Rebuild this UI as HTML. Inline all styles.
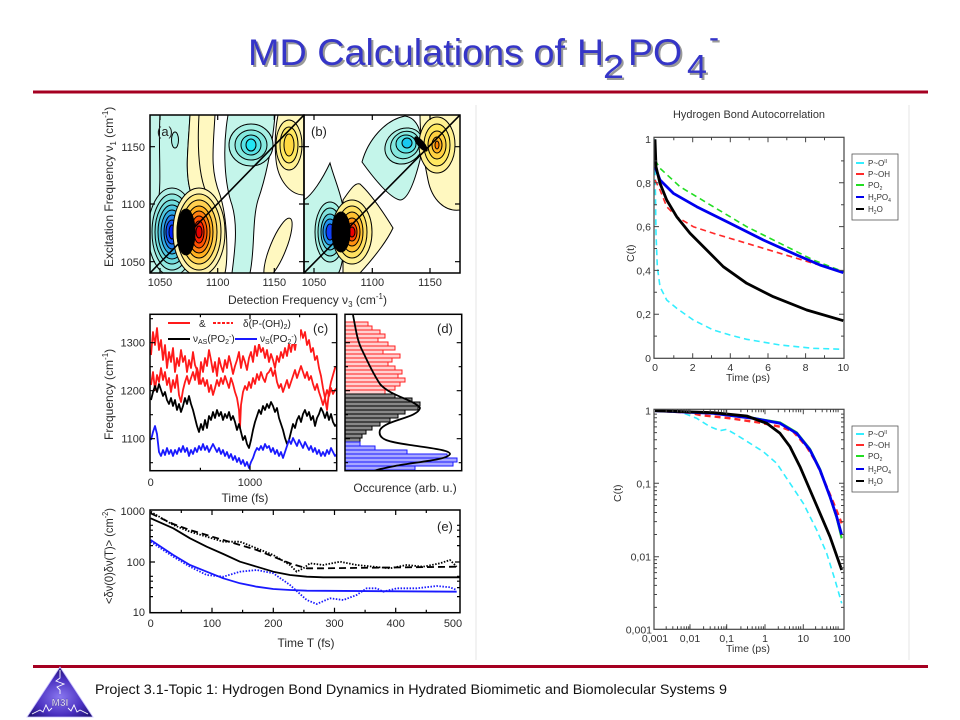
<!DOCTYPE html>
<html><head><meta charset="utf-8"><style>
html,body{margin:0;padding:0;background:#fff;}
svg{display:block;}
text{font-family:"Liberation Sans",Arial,sans-serif;}
</style></head><body>
<svg width="960" height="720" viewBox="0 0 960 720" xmlns="http://www.w3.org/2000/svg">
<defs>
<clipPath id="ca"><rect x="150" y="115" width="154" height="158"/></clipPath>
<clipPath id="cb"><rect x="304" y="115" width="156" height="158"/></clipPath>
<clipPath id="cc"><rect x="150" y="314.3" width="186.7" height="156.4"/></clipPath>
<clipPath id="cd"><rect x="345" y="314.3" width="116.7" height="156.4"/></clipPath>
<clipPath id="ce"><rect x="150" y="510" width="310" height="102.7"/></clipPath>
<radialGradient id="lg" cx="50%" cy="60%" r="60%">
<stop offset="0" stop-color="#8a78f0"/><stop offset="0.6" stop-color="#4a30c0"/><stop offset="1" stop-color="#1e1070"/>
</radialGradient>
</defs>
<rect width="960" height="720" fill="#fff"/>

<!-- Title -->
<g font-size="37.5" fill="#999">
<text x="250" y="67" textLength="317" lengthAdjust="spacingAndGlyphs">MD Calculations of</text>
<text x="579" y="67">H</text><text x="605" y="80" font-size="33" textLength="21" lengthAdjust="spacingAndGlyphs">2</text>
<text x="630" y="67">PO</text><text x="689" y="80" font-size="33" textLength="20" lengthAdjust="spacingAndGlyphs">4</text><text x="711" y="49" font-size="30">-</text>
</g>
<g font-size="37.5" fill="#3535c8">
<text x="248" y="65" textLength="317" lengthAdjust="spacingAndGlyphs">MD Calculations of</text>
<text x="577" y="65">H</text><text x="603" y="78" font-size="33" textLength="21" lengthAdjust="spacingAndGlyphs">2</text>
<text x="628" y="65">PO</text><text x="687" y="78" font-size="33" textLength="20" lengthAdjust="spacingAndGlyphs">4</text><text x="709" y="47" font-size="30">-</text>
</g>
<rect x="33" y="90.5" width="895" height="3" fill="#a50021"/>

<!-- faint separators -->
<line x1="476" y1="105" x2="476" y2="660" stroke="#e6e6e6" stroke-width="1"/>
<line x1="909" y1="105" x2="909" y2="660" stroke="#e6e6e6" stroke-width="1"/>

<!-- ===== Panel (a) ===== -->
<g clip-path="url(#ca)" stroke="#000" stroke-width="1">
<rect x="150" y="115" width="154" height="158" fill="#fff" stroke="none"/>
<path d="M150,115 L190,115 C188,150 185,170 190,190 C195,215 195,260 192,273 L150,273 Z" fill="#c4f5ea"/>
<path d="M160,115 C158,150 162,180 158,205" fill="none"/>
<ellipse cx="175" cy="140" rx="3.5" ry="8" fill="#a8efe4"/>
<path d="M190,115 L215,115 C213,150 210,170 220,195 C228,220 228,260 225,273 L192,273 C195,250 195,215 190,190 C185,170 188,150 190,115 Z" fill="#fff8c0"/>
<path d="M199,115 C197,150 199,175 206,192" fill="none"/>
<path d="M228,115 L275,115 C272,150 265,180 258,200 C252,220 255,250 250,273 L232,273 C235,250 238,225 232,205 C225,185 222,150 228,115 Z" fill="#c4f5ea"/>
<ellipse cx="251" cy="145" rx="22" ry="21" fill="#a6f0e4"/>
<ellipse cx="251" cy="145" rx="16" ry="15" fill="#84e8de"/>
<ellipse cx="251" cy="145" rx="10" ry="10" fill="#58e2e6"/>
<ellipse cx="251" cy="145" rx="5" ry="6" fill="#22e4f4"/>
<path d="M278,115 L304,115 L304,195 C290,195 278,180 276,160 C274,140 276,125 278,115 Z" fill="#fff8c0"/>
<ellipse cx="289" cy="145" rx="13" ry="25" fill="#fff090"/>
<ellipse cx="289" cy="145" rx="9" ry="18" fill="#ffe860"/>
<ellipse cx="289" cy="145" rx="5" ry="11" fill="#ffd840"/>
<ellipse cx="278" cy="248" rx="8" ry="32" transform="rotate(22 278 248)" fill="#fff8c0"/>
<ellipse cx="172" cy="232" rx="24" ry="44" fill="#b0f0e6"/>
<ellipse cx="172" cy="232" rx="20" ry="38" fill="#90e8e0"/>
<ellipse cx="172" cy="232" rx="17" ry="32" fill="#70dcdc"/>
<ellipse cx="172" cy="232" rx="14" ry="27" fill="#50c8e0"/>
<ellipse cx="172" cy="232" rx="11" ry="22" fill="#30a8e4"/>
<ellipse cx="172" cy="232" rx="8" ry="17" fill="#2080ec"/>
<ellipse cx="172" cy="232" rx="6" ry="12" fill="#1050f4"/>
<ellipse cx="172" cy="232" rx="3" ry="7" fill="#0020ff"/>
<ellipse cx="199" cy="232" rx="26" ry="44" fill="#fff4b0"/>
<ellipse cx="199" cy="232" rx="22" ry="38" fill="#ffe880"/>
<ellipse cx="199" cy="232" rx="18" ry="32" fill="#ffd050"/>
<ellipse cx="199" cy="232" rx="14" ry="26" fill="#ffb020"/>
<ellipse cx="199" cy="232" rx="11" ry="21" fill="#ff8010"/>
<ellipse cx="199" cy="232" rx="8" ry="16" fill="#ff5000"/>
<ellipse cx="199" cy="232" rx="5" ry="11" fill="#ff2000"/>
<ellipse cx="199" cy="232" rx="3" ry="6" fill="#e00000"/>
<ellipse cx="186" cy="232" rx="9" ry="23" fill="#000"/>
<line x1="150" y1="273" x2="304" y2="115" stroke-width="1.6"/>
</g>
<!-- ===== Panel (b) ===== -->
<g clip-path="url(#cb)" stroke="#000" stroke-width="1">
<rect x="304" y="115" width="156" height="158" fill="#fff" stroke="none"/>
<path d="M362,162 C368,140 385,120 405,116 C418,118 425,135 420,160 C415,180 408,200 400,200 C390,198 375,180 362,162 Z" fill="#c4f5ea"/>
<ellipse cx="404" cy="146" rx="20" ry="17" transform="rotate(-35 404 146)" fill="#a6f0e4"/>
<ellipse cx="405" cy="145" rx="15" ry="13" transform="rotate(-35 405 145)" fill="#84e8de"/>
<ellipse cx="406" cy="144" rx="10" ry="9" fill="#58e2e6"/>
<ellipse cx="407" cy="143" rx="5" ry="5" fill="#18c8f0"/>
<path d="M420,113 L462,113 L460,210 C445,212 432,200 428,180 C424,160 420,140 420,113 Z" fill="#fff8c0"/>
<ellipse cx="437" cy="145" rx="18" ry="28" fill="#fff090"/>
<ellipse cx="437" cy="145" rx="13" ry="21" fill="#ffe860"/>
<ellipse cx="437" cy="145" rx="9" ry="14" fill="#ffd040"/>
<ellipse cx="437" cy="145" rx="5" ry="8" fill="#ffb020"/>
<ellipse cx="437" cy="145" rx="2" ry="4" fill="#ff8000"/>
<ellipse cx="421" cy="144" rx="3" ry="9" transform="rotate(-40 421 144)" fill="#000"/>
<path d="M304,200 C312,195 322,180 330,163 C336,185 345,200 345,230 C345,255 340,273 338,273 L304,273 Z" fill="#c4f5ea"/>
<ellipse cx="330" cy="232" rx="15" ry="30" fill="#a0efe2"/>
<ellipse cx="330" cy="232" rx="12" ry="24" fill="#80e0dc"/>
<ellipse cx="330" cy="232" rx="9" ry="18" fill="#50c8e0"/>
<ellipse cx="330" cy="232" rx="7" ry="13" fill="#2090ec"/>
<ellipse cx="330" cy="232" rx="4" ry="8" fill="#1040f8"/>
<path d="M343,200 C350,190 355,182 360,184 C372,195 385,215 393,228 C385,245 370,262 360,273 L343,273 Z" fill="#fff8c0"/>
<ellipse cx="352" cy="232" rx="20" ry="32" fill="#fff090"/>
<ellipse cx="352" cy="232" rx="15" ry="26" fill="#ffe060"/>
<ellipse cx="352" cy="232" rx="11" ry="20" fill="#ffc030"/>
<ellipse cx="352" cy="232" rx="8" ry="14" fill="#ff9010"/>
<ellipse cx="352" cy="232" rx="5" ry="9" fill="#ff4000"/>
<ellipse cx="352" cy="232" rx="3" ry="5" fill="#ee0000"/>
<ellipse cx="341" cy="232" rx="9" ry="20" fill="#000"/>
<line x1="304" y1="273" x2="460" y2="115" stroke-width="1.6"/>
</g>
<g fill="none" stroke="#000" stroke-width="1.5">
<rect x="150" y="115" width="154" height="158"/>
<rect x="304" y="115" width="156" height="158"/>
</g>
<path stroke="#000" stroke-width="1.2" fill="none" d="M160,273v-5M217.7,273v-5M274.3,273v-5M314,273v-5M372.3,273v-5M430,273v-5
M160,115v5M217.7,115v5M274.3,115v5M314,115v5M372.3,115v5M430,115v5
M150,261.7h5M150,204h5M150,146.7h5M304,261.7h-5M304,204h-5M304,146.7h-5M304,261.7h5M304,204h5M304,146.7h5M460,261.7h-5M460,204h-5M460,146.7h-5"/>
<g font-size="13" fill="#222">
<text x="157" y="136">(a)</text><text x="311" y="136">(b)</text>
</g>
<g font-size="11" fill="#2a2a2a">
<text x="145" y="151" text-anchor="end">1150</text>
<text x="145" y="208" text-anchor="end">1100</text>
<text x="145" y="266" text-anchor="end">1050</text>
<text x="160" y="286" text-anchor="middle">1050</text>
<text x="217.7" y="286" text-anchor="middle">1100</text>
<text x="274.3" y="286" text-anchor="middle">1150</text>
<text x="314" y="286" text-anchor="middle">1050</text>
<text x="372.3" y="286" text-anchor="middle">1100</text>
<text x="430" y="286" text-anchor="middle">1150</text>
</g>
<g font-size="12" fill="#2a2a2a">
<text x="228" y="304">Detection Frequency ν<tspan font-size="8" dy="3">3</tspan><tspan dy="-3"> (cm</tspan><tspan font-size="8" dy="-5">-1</tspan><tspan dy="5">)</tspan></text>
<text transform="translate(113,267) rotate(-90)">Excitation Frequency ν<tspan font-size="8" dy="3">1</tspan><tspan dy="-3"> (cm</tspan><tspan font-size="8" dy="-5">-1</tspan><tspan dy="5">)</tspan></text>
</g>

<!-- ===== Panel (c) ===== -->
<g clip-path="url(#cc)" fill="none" stroke-linejoin="round">
<polyline stroke="#ff1a1a" stroke-width="1.8" points="151,355 153,332 155,345 157,328 159,350 161,340 163,360 165,345 167,368 169,352 171,362 173,348 175,372 177,358 179,366 181,350 183,362 185,356 187,372 189,360 191,368 193,352 195,365 197,370 199,384 201,362 203,372 205,358 207,366 209,350 211,360 213,372 215,362 217,376 219,358 221,366 223,372 225,360 227,368 229,356 231,364 233,374 235,366 237,360 239,352 241,368 243,356 245,362 247,370 249,358 251,352 253,362 255,346 257,356 259,344 261,352 263,348 265,358 267,350 269,362 271,354 273,360 275,368 277,356 279,362 281,352 283,358 285,348 287,356 289,344 291,352 293,340 295,350 297,336 299,342 301,330 303,338 305,332 307,345 309,340 311,352 313,348 315,360 317,356 319,368 321,376 323,388 325,398 327,410 329,392 331,382 333,375 335,368 337,366"/>
<polyline stroke="#ff1a1a" stroke-width="1.8" points="151,385 153,372 155,390 157,375 159,382 161,368 163,380 165,372 167,385 169,378 171,392 173,380 175,388 177,375 179,395 181,402 183,390 185,382 187,376 189,384 191,378 193,372 195,380 197,368 199,376 201,384 203,378 205,386 207,380 209,392 211,385 213,395 215,388 217,380 219,386 221,378 223,384 225,376 227,382 229,388 231,378 233,384 235,392 237,398 239,410 240,428 241,405 243,392 245,386 247,390 249,382 251,388 253,378 255,384 257,374 259,380 261,372 263,378 265,382 267,374 269,372 271,368 273,376 275,370 277,382 279,388 281,384 283,392 285,386 287,380 289,388 291,382 293,376 295,370 297,378 299,372 301,366 303,372 305,378 307,372 309,380 311,376 313,384 315,390 317,384 319,392 321,398 323,405 325,398 327,390 329,396 331,388 333,394 335,390 337,388"/>
<polyline stroke="#000" stroke-width="1.8" points="151,400 153,392 155,386 157,392 159,384 161,390 163,396 165,392 167,400 169,404 171,398 173,406 175,400 177,410 179,404 181,412 183,406 185,398 187,404 189,396 191,404 193,410 195,418 197,426 199,432 201,424 203,430 205,420 207,428 209,416 211,420 213,412 215,418 217,410 219,416 221,412 223,420 225,414 227,418 229,412 231,420 233,416 235,422 237,430 239,424 241,432 243,440 245,436 247,444 249,448 251,440 253,430 255,422 257,416 259,410 261,414 263,406 265,410 267,404 269,408 271,402 273,406 275,412 277,408 279,418 281,424 283,430 285,438 287,444 289,440 291,432 293,424 295,428 297,420 299,416 301,422 303,414 305,410 307,416 309,412 311,420 313,416 315,426 317,418 319,414 321,408 323,412 325,418 327,412 329,420 331,414 333,422 335,426 337,424"/>
<polyline stroke="#1a1aff" stroke-width="1.8" points="151,440 153,432 155,426 157,434 159,452 161,456 163,450 165,455 167,448 169,454 171,450 173,456 175,450 177,454 179,448 181,452 183,446 185,452 187,448 189,456 191,450 193,454 195,448 197,452 199,446 201,450 203,444 205,450 207,446 209,452 211,448 213,444 215,448 217,452 219,448 221,454 223,450 225,456 227,452 229,458 231,454 233,460 235,456 237,462 239,458 241,464 243,460 245,466 247,462 249,468 251,462 253,458 255,452 257,448 259,450 261,446 263,450 265,444 267,448 269,446 271,452 273,448 275,454 277,450 279,456 281,452 283,458 285,452 287,446 289,440 291,444 293,438 295,442 297,446 299,440 301,444 303,448 305,442 307,446 309,450 311,446 313,452 315,448 317,454 319,450 321,456 323,452 325,456 327,450 329,454 331,448 333,452 335,456 337,454"/>
</g>
<rect x="165" y="317" width="135" height="27" fill="#fff"/>
<g stroke-width="2">
<line x1="168" y1="323" x2="190" y2="323" stroke="#ff1a1a"/>
<line x1="213" y1="323" x2="233" y2="323" stroke="#ff1a1a" stroke-dasharray="3,1.5"/>
<line x1="168" y1="339" x2="190" y2="339" stroke="#000"/>
<line x1="235" y1="339" x2="257" y2="339" stroke="#1a1aff"/>
</g>
<g font-size="10" fill="#222">
<text x="199" y="327">&amp;</text>
<text x="243" y="327">δ(P-(OH)<tspan font-size="7" dy="2">2</tspan><tspan dy="-2">)</tspan></text>
<text x="193" y="342">ν<tspan font-size="7" dy="2">AS</tspan><tspan dy="-2">(PO</tspan><tspan font-size="7" dy="2">2</tspan><tspan font-size="7" dy="-5">-</tspan><tspan dy="3">)</tspan></text>
<text x="260" y="342">ν<tspan font-size="7" dy="2">S</tspan><tspan dy="-2">(PO</tspan><tspan font-size="7" dy="2">2</tspan><tspan font-size="7" dy="-5">-</tspan><tspan dy="3">)</tspan></text>
</g>
<text x="313" y="333" font-size="13" fill="#222">(c)</text>

<!-- ===== Panel (d) ===== -->
<g clip-path="url(#cd)" stroke-width="1">
<g fill="#ffd0d0" stroke="#ff2020">
<rect x="345" y="322" width="23" height="4"/><rect x="345" y="326" width="27" height="4"/><rect x="345" y="330" width="35" height="4"/>
<rect x="345" y="334" width="40" height="4"/><rect x="345" y="338" width="33" height="4"/><rect x="345" y="342" width="43" height="4"/>
<rect x="345" y="346" width="50" height="4"/><rect x="345" y="350" width="38" height="4"/><rect x="345" y="354" width="55" height="4"/>
<rect x="345" y="358" width="47" height="4"/><rect x="345" y="362" width="43" height="4"/><rect x="345" y="366" width="50" height="4"/>
<rect x="345" y="370" width="57" height="4"/><rect x="345" y="374" width="53" height="4"/><rect x="345" y="378" width="60" height="4"/>
<rect x="345" y="382" width="55" height="4"/><rect x="345" y="386" width="50" height="4"/><rect x="345" y="390" width="40" height="4"/>
</g>
<g fill="#888" stroke="#000">
<rect x="345" y="394" width="50" height="4"/><rect x="345" y="398" width="67" height="4"/><rect x="345" y="402" width="75" height="4"/>
<rect x="345" y="406" width="73" height="4"/><rect x="345" y="410" width="60" height="4"/><rect x="345" y="414" width="53" height="4"/>
<rect x="345" y="418" width="45" height="4"/><rect x="345" y="422" width="35" height="4"/><rect x="345" y="426" width="27" height="4"/>
<rect x="345" y="430" width="21" height="4"/><rect x="345" y="434" width="17" height="4"/><rect x="345" y="438" width="15" height="4"/>
</g>
<g fill="#a8a8ff" stroke="#1a1aff">
<rect x="345" y="442" width="15" height="4"/><rect x="345" y="446" width="30" height="4"/><rect x="345" y="450" width="62" height="4"/>
<rect x="345" y="454" width="102" height="4"/><rect x="345" y="458" width="112" height="4"/><rect x="345" y="462" width="108" height="4"/>
<rect x="345" y="466" width="70" height="4"/>
</g>
<path fill="none" stroke="#000" stroke-width="1.8" d="M353,315 C356,330 357,340 362,350 C368,362 372,372 380,384 C390,396 415,400 420,408 C418,418 385,420 380,430 C377,440 390,442 410,445 C430,448 450,450 450,454 C448,460 415,462 395,466 C380,469 375,470 372,472"/>
</g>
<g fill="none" stroke="#000" stroke-width="1.5">
<rect x="150" y="314.3" width="186.7" height="156.4"/>
<rect x="345" y="314.3" width="116.7" height="156.4"/>
</g>
<path stroke="#000" stroke-width="1.2" fill="none" d="M150,342.7h5M150,390.7h5M150,438.7h5M150,366.7h3M150,414.7h3M150,462.7h3M150,318.7h3
M336.7,342.7h-5M336.7,390.7h-5M336.7,438.7h-5M336.7,366.7h-3M336.7,414.7h-3M336.7,462.7h-3
M250,470.7v-5M200.4,470.7v-3M299.6,470.7v-3M250,314.3v5M200.4,314.3v3M299.6,314.3v3
M345,342.7h5M345,390.7h5M345,438.7h5M345,366.7h3M345,414.7h3M345,462.7h3
M461.7,342.7h-5M461.7,390.7h-5M461.7,438.7h-5M461.7,366.7h-3M461.7,414.7h-3M461.7,462.7h-3"/>
<text x="437" y="333" font-size="13" fill="#222">(d)</text>
<g font-size="11" fill="#2a2a2a">
<text x="145" y="346.5" text-anchor="end">1300</text>
<text x="145" y="394.5" text-anchor="end">1200</text>
<text x="145" y="442.5" text-anchor="end">1100</text>
<text x="150.7" y="486" text-anchor="middle">0</text>
<text x="250" y="486" text-anchor="middle">1000</text>
</g>
<g font-size="12" fill="#2a2a2a">
<text x="245" y="502" text-anchor="middle">Time (fs)</text>
<text x="405" y="492" text-anchor="middle">Occurence (arb. u.)</text>
<text transform="translate(113,440) rotate(-90)">Frequency (cm<tspan font-size="8" dy="-5">-1</tspan><tspan dy="5">)</tspan></text>
</g>

<!-- ===== Panel (e) ===== -->
<g clip-path="url(#ce)" fill="none" stroke-linejoin="round">
<polyline stroke="#000" stroke-width="1.8" points="150.7,518.3 173.3,528.3 190,538.3 206.7,546.7 223.3,554 240,561.7 256.7,566.7 273.3,571.7 290,575 306.7,576.7 323.3,577.3 460,577.3"/>
<polyline stroke="#000" stroke-width="1.8" stroke-dasharray="7,4" points="150.7,513.3 173.3,524 190,530 223.3,540 256.7,550 273.3,556.7 290,563.3 306.7,568.3 323.3,568.3 456.7,566.7"/>
<polyline stroke="#000" stroke-width="1.8" stroke-dasharray="1.5,1.5" points="150.7,511.7 173.3,525 190,531.7 206.7,536.7 223.3,541.7 240,541.7 256.7,548.3 273.3,555 290,565 296.7,571.7 303.3,568.3 310,563.3 323.3,565 340,561.7 356.7,565 373.3,566.7 390,568.3 406.7,565 423.3,566.7 440,563.3 450,560 456.7,566.7"/>
<polyline stroke="#1a1aff" stroke-width="1.8" points="150.7,540 173.3,555 190,565 206.7,571.7 223.3,578.3 240,583.3 256.7,586.7 273.3,589 290,590 306.7,590.7 456.7,591.7"/>
<polyline stroke="#1a1aff" stroke-width="1.8" stroke-dasharray="1.5,1.5" points="150.7,541.7 173.3,556.7 190,566.7 206.7,575 223.3,576.7 240,571.7 256.7,570 273.3,573.3 290,585 306.7,600 316.7,604 330,598.3 343.3,600 356.7,595 366.7,588.3 376.7,588.3 383.3,591.7 396.7,588.3 416.7,588.3 436.7,586 450,587.3 456.7,590"/>
</g>
<rect x="150" y="510" width="310" height="102.7" fill="none" stroke="#000" stroke-width="1.5"/>
<path stroke="#000" stroke-width="1.2" fill="none" d="M212,612.7v-5M273.3,612.7v-5M334.5,612.7v-5M395.7,612.7v-5M181.3,612.7v-3M242.6,612.7v-3M303.9,612.7v-3M365.1,612.7v-3M426.3,612.7v-3
M212,510v5M273.3,510v5M334.5,510v5M395.7,510v5M181.3,510v3M242.6,510v3M303.9,510v3M365.1,510v3M426.3,510v3
M150,562h5M460,562h-5M150,596.6h3M150,587.6h3M150,581.2h3M150,576.3h3M150,545.6h3M150,536.6h3M150,530.2h3M150,525.3h3
M460,596.6h-3M460,587.6h-3M460,581.2h-3M460,576.3h-3M460,545.6h-3M460,536.6h-3M460,530.2h-3M460,525.3h-3"/>
<text x="437" y="531" font-size="13" fill="#222">(e)</text>
<g font-size="11" fill="#2a2a2a">
<text x="145" y="515" text-anchor="end">1000</text>
<text x="145" y="566" text-anchor="end">100</text>
<text x="145" y="616" text-anchor="end">10</text>
<text x="150.7" y="627" text-anchor="middle">0</text>
<text x="212" y="627" text-anchor="middle">100</text>
<text x="273.3" y="627" text-anchor="middle">200</text>
<text x="334.5" y="627" text-anchor="middle">300</text>
<text x="395.7" y="627" text-anchor="middle">400</text>
<text x="453" y="627" text-anchor="middle">500</text>
</g>
<g font-size="12" fill="#2a2a2a">
<text x="306" y="647" text-anchor="middle">Time T (fs)</text>
<text transform="translate(113,604) rotate(-90)" textLength="96" lengthAdjust="spacingAndGlyphs">&lt;δν(0)δν(T)&gt; (cm<tspan font-size="8" dy="-5">-2</tspan><tspan dy="5">)</tspan></text>
</g>

<!-- ===== Right top ===== -->
<text x="749" y="118" font-size="11" fill="#333" text-anchor="middle" textLength="152" lengthAdjust="spacingAndGlyphs">Hydrogen Bond Autocorrelation</text>
<g fill="none" stroke-linejoin="round" stroke-width="1.6">
<polyline stroke="#33eeff" stroke-dasharray="6,4" points="655,139.3 655.3,183.3 656,233.3 657.3,266.7 660,286.7 666.7,300 676.7,308.3 693.3,320 713.3,330 730,335 746.7,339.3 780,345 813.3,348.3 843.3,349.3"/>
<polyline stroke="#ff2a2a" stroke-dasharray="6,4" points="655,180 660,190 666.7,206.7 676.7,216.7 693.3,226.7 713.3,233.3 746.7,243.3 780,253.3 813.3,263.3 843.3,271.7"/>
<polyline stroke="#22dd22" stroke-dasharray="6,4" points="655,160 660,168.3 680,186.7 713.3,206.7 746.7,226.7 780,243.3 813.3,260 843.3,271.7"/>
<polyline stroke="#0000ee" stroke-width="2.8" points="655,166.7 660,180 673.3,193.3 696.7,206.7 730,223.3 763.3,240 796.7,255 820,265 843.3,272.7"/>
<polyline stroke="#000" stroke-width="2.8" points="655,139.3 656,166.7 660,183.3 666.7,200 676.7,216.7 690,233.3 706.7,250 723.3,266.7 746.7,283.3 773.3,296.7 806.7,310 843.3,320.7"/>
</g>
<rect x="654" y="137.3" width="190" height="221" fill="none" stroke="#444" stroke-width="1.2"/>
<path stroke="#444" stroke-width="1" fill="none" d="M654,182.8h5M654,226.6h5M654,270.4h5M654,314.2h5M844,182.8h-5M844,226.6h-5M844,270.4h-5M844,314.2h-5
M654,160.9h3M654,204.7h3M654,248.5h3M654,292.3h3M654,336.1h3M844,160.9h-3M844,204.7h-3M844,248.5h-3M844,292.3h-3M844,336.1h-3
M692.7,358.3v-5M730.3,358.3v-5M768,358.3v-5M805.6,358.3v-5M692.7,137.3v5M730.3,137.3v5M768,137.3v5M805.6,137.3v5
M673.8,358.3v-3M711.5,358.3v-3M749.2,358.3v-3M786.8,358.3v-3M824.5,358.3v-3M673.8,137.3v3M711.5,137.3v3M749.2,137.3v3M786.8,137.3v3M824.5,137.3v3"/>
<g font-size="10.5" fill="#333">
<text x="651" y="143" text-anchor="end">1</text>
<text x="651" y="187" text-anchor="end">0,8</text>
<text x="651" y="230.5" text-anchor="end">0,6</text>
<text x="651" y="274.5" text-anchor="end">0,4</text>
<text x="651" y="318" text-anchor="end">0,2</text>
<text x="651" y="362" text-anchor="end">0</text>
<text x="655" y="371" text-anchor="middle">0</text>
<text x="692.7" y="371" text-anchor="middle">2</text>
<text x="730.3" y="371" text-anchor="middle">4</text>
<text x="768" y="371" text-anchor="middle">6</text>
<text x="805.6" y="371" text-anchor="middle">8</text>
<text x="843.3" y="371" text-anchor="middle">10</text>
<text x="748" y="381" text-anchor="middle">Time (ps)</text>
<text transform="translate(634,262) rotate(-90)">C(t)</text>
</g>
<rect x="852" y="154" width="46" height="66" fill="#fff" stroke="#555" stroke-width="0.8"/>
<g stroke-width="2">
<line x1="856" y1="163" x2="864" y2="163" stroke="#33eeff"/>
<line x1="856" y1="174" x2="864" y2="174" stroke="#ff2a2a"/>
<line x1="856" y1="185" x2="864" y2="185" stroke="#22dd22"/>
<line x1="856" y1="197" x2="864" y2="197" stroke="#0000ee"/>
<line x1="856" y1="209" x2="864" y2="209" stroke="#000"/>
</g>
<g font-size="8" fill="#333">
<text x="868" y="166">P~O<tspan font-size="5" dy="-3">II</tspan></text>
<text x="868" y="177">P~OH</text>
<text x="868" y="188">PO<tspan font-size="5" dy="2">2</tspan></text>
<text x="868" y="200">H<tspan font-size="5" dy="2">2</tspan><tspan dy="-2">PO</tspan><tspan font-size="5" dy="2">4</tspan></text>
<text x="868" y="212">H<tspan font-size="5" dy="2">2</tspan><tspan dy="-2">O</tspan></text>
</g>

<!-- ===== Right bottom ===== -->
<g fill="none" stroke-linejoin="round" stroke-width="1.6">
<polyline stroke="#33eeff" stroke-dasharray="6,4" points="655,410.7 680,411.7 696.7,418.3 710,426.7 720,430.7 726.7,429.3 736.7,435 750,443.3 763.3,451.7 776.7,463.3 790,483.3 803.3,503.3 816.7,530 826.7,553.3 835,580 841.7,603.3"/>
<polyline stroke="#22dd22" stroke-width="2.2" points="655,410.7 713.3,413.3 753.3,418 780,422.5 796.7,432.5 810,449 820,469 830,497 836.7,518 841.7,538.3"/>
<polyline stroke="#ff2a2a" stroke-width="2.4" stroke-dasharray="6,4" points="655,410.7 690,412.7 700,415 730,418.3 760,422.7 780,426.7 793.3,431.7 806.7,446.7 816.7,463.3 826.7,486.7 835,506.7 841.7,523.3"/>
<polyline stroke="#0000ee" stroke-width="2.8" points="655,410.7 713.3,413.3 753.3,418.3 780,423.3 796.7,433.3 810,450 820,470 830,496.7 836.7,516.7 841.7,535"/>
<polyline stroke="#000" stroke-width="2.8" points="655,410.7 713.3,412.7 746.7,416 766.7,423.3 780,433.3 790,446.7 800,466.7 810,490 820,513.3 830,536.7 841.7,570"/>
</g>
<rect x="654" y="409.3" width="190" height="220" fill="none" stroke="#444" stroke-width="1.2"/>
<path stroke="#444" stroke-width="1" fill="none" d="M690,629.3v-5M726.7,629.3v-5M765,629.3v-5M803.3,629.3v-5M690,409.3v5M726.7,409.3v5M765,409.3v5M803.3,409.3v5
M654,483.3h5M654,556.7h5M844,483.3h-5M844,556.7h-5
M666.2,629.3v-3M672.8,629.3v-3M677.5,629.3v-3M681.1,629.3v-3M684.1,629.3v-3M686.6,629.3v-3M688.7,629.3v-3
M703.6,629.3v-3M710.2,629.3v-3M714.8,629.3v-3M718.4,629.3v-3M721.4,629.3v-3M723.9,629.3v-3M726.1,629.3v-3
M740.9,629.3v-3M747.5,629.3v-3M752.2,629.3v-3M755.8,629.3v-3M758.7,629.3v-3M761.2,629.3v-3M763.4,629.3v-3
M778.3,629.3v-3M784.8,629.3v-3M789.5,629.3v-3M793.1,629.3v-3M796.1,629.3v-3M798.6,629.3v-3M800.7,629.3v-3
M815.6,629.3v-3M822.2,629.3v-3M826.8,629.3v-3M830.5,629.3v-3M833.4,629.3v-3M835.9,629.3v-3M838.1,629.3v-3
M666.2,409.3v3M672.8,409.3v3M677.5,409.3v3M681.1,409.3v3M684.1,409.3v3M686.6,409.3v3M688.7,409.3v3
M703.6,409.3v3M710.2,409.3v3M714.8,409.3v3M718.4,409.3v3M721.4,409.3v3M723.9,409.3v3M726.1,409.3v3
M740.9,409.3v3M747.5,409.3v3M752.2,409.3v3M755.8,409.3v3M758.7,409.3v3M761.2,409.3v3M763.4,409.3v3
M778.3,409.3v3M784.8,409.3v3M789.5,409.3v3M793.1,409.3v3M796.1,409.3v3M798.6,409.3v3M800.7,409.3v3
M815.6,409.3v3M822.2,409.3v3M826.8,409.3v3M830.5,409.3v3M833.4,409.3v3M835.9,409.3v3M838.1,409.3v3
M654,607.4h3M654,594.5h3M654,585.4h3M654,578.4h3M654,572.6h3M654,567.7h3M654,563.5h3M654,559.8h3
M654,534.5h3M654,521.6h3M654,512.5h3M654,505.5h3M654,499.7h3M654,494.8h3M654,490.6h3M654,486.9h3
M654,461.6h3M654,448.8h3M654,439.7h3M654,432.6h3M654,426.9h3M654,422h3M654,417.8h3M654,414.1h3
M844,607.4h-3M844,594.5h-3M844,585.4h-3M844,578.4h-3M844,572.6h-3M844,567.7h-3M844,563.5h-3M844,559.8h-3
M844,534.5h-3M844,521.6h-3M844,512.5h-3M844,505.5h-3M844,499.7h-3M844,494.8h-3M844,490.6h-3M844,486.9h-3
M844,461.6h-3M844,448.8h-3M844,439.7h-3M844,432.6h-3M844,426.9h-3M844,422h-3M844,417.8h-3M844,414.1h-3"/>
<g font-size="10.5" fill="#333">
<text x="651" y="414.7" text-anchor="end">1</text>
<text x="651" y="487.3" text-anchor="end">0,1</text>
<text x="651" y="560.7" text-anchor="end">0,01</text>
<text x="652" y="633.3" text-anchor="end">0,001</text>
<text x="655" y="642" text-anchor="middle">0,001</text>
<text x="690" y="642" text-anchor="middle">0,01</text>
<text x="726.7" y="642" text-anchor="middle">0,1</text>
<text x="765" y="642" text-anchor="middle">1</text>
<text x="803.3" y="642" text-anchor="middle">10</text>
<text x="841.7" y="642" text-anchor="middle">100</text>
<text x="748" y="652" text-anchor="middle">Time (ps)</text>
<text transform="translate(621,502) rotate(-90)">C(t)</text>
</g>
<rect x="852" y="426" width="46" height="66" fill="#fff" stroke="#555" stroke-width="0.8"/>
<g stroke-width="2">
<line x1="856" y1="434" x2="864" y2="434" stroke="#33eeff"/>
<line x1="856" y1="445" x2="864" y2="445" stroke="#ff2a2a"/>
<line x1="856" y1="456" x2="864" y2="456" stroke="#22dd22"/>
<line x1="856" y1="469" x2="864" y2="469" stroke="#0000ee"/>
<line x1="856" y1="481" x2="864" y2="481" stroke="#000"/>
</g>
<g font-size="8" fill="#333">
<text x="868" y="437">P~O<tspan font-size="5" dy="-3">II</tspan></text>
<text x="868" y="448">P~OH</text>
<text x="868" y="459">PO<tspan font-size="5" dy="2">2</tspan></text>
<text x="868" y="472">H<tspan font-size="5" dy="2">2</tspan><tspan dy="-2">PO</tspan><tspan font-size="5" dy="2">4</tspan></text>
<text x="868" y="484">H<tspan font-size="5" dy="2">2</tspan><tspan dy="-2">O</tspan></text>
</g>

<!-- Footer -->
<rect x="33" y="665" width="895" height="3" fill="#a50021"/>
<path d="M60,667 L93,717 L27,717 Z" fill="url(#lg)" stroke="#c8c0ff" stroke-width="0.8"/>
<path d="M60,670 L60,678 L56,681 L64,684 L57,687 L60,690 L60,694" fill="none" stroke="#fff" stroke-width="0.9"/>
<path d="M32,714 L40,710 L43,712 L46,705 L49,711 L52,708" fill="none" stroke="#fff" stroke-width="0.9"/>
<path d="M68,708 L71,711 L74,705 L77,712 L80,710 L88,714" fill="none" stroke="#fff" stroke-width="0.9"/>
<text x="60" y="706" font-size="10" font-weight="bold" fill="#e8e4ff" text-anchor="middle" stroke="#302080" stroke-width="0.3">M3I</text>
<text x="95" y="694" font-size="14" fill="#111" textLength="632" lengthAdjust="spacingAndGlyphs">Project 3.1-Topic 1: Hydrogen  Bond Dynamics in Hydrated Biomimetic and Biomolecular Systems 9</text>
</svg>
</body></html>
